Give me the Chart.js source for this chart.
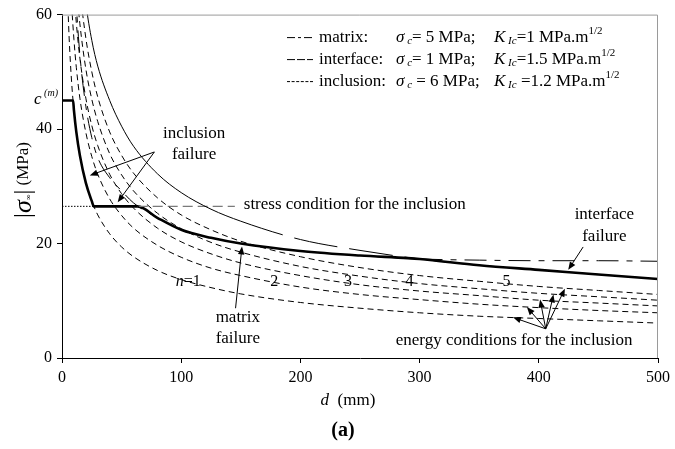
<!DOCTYPE html>
<html>
<head>
<meta charset="utf-8">
<script src="https://cdn.jsdelivr.net/npm/chart.js@4/dist/chart.umd.min.js"></script>
<style>
  html, body { margin: 0; padding: 0; background: #fff; }
  #wrap { width: 675px; height: 449px; }
</style>
</head>
<body>
<div id="wrap"><canvas id="c" width="675" height="449"></canvas></div>
<script>
// crack spacing d (mm)
const D = [4, 5, 6, 8, 10, 12, 15, 20, 25, 30, 40, 50, 60, 80, 100, 125, 150, 200, 250, 300, 350, 400, 450, 500];

// energy conditions for the inclusion, n = 1..5 (MPa)
const inclusionN1 = [68.5, 61.3, 55.9, 48.4, 43.3, 39.5, 35.4, 30.6, 27.4, 25.0, 21.7, 19.4, 17.7, 15.3, 13.7, 12.3, 11.2, 9.7, 8.7, 7.9, 7.3, 6.9, 6.5, 6.1];
const inclusionN2 = [88.0, 78.7, 71.9, 62.2, 55.7, 50.8, 45.4, 39.4, 35.2, 32.1, 27.8, 24.9, 22.7, 19.7, 17.6, 15.7, 14.4, 12.4, 11.1, 10.2, 9.4, 8.8, 8.3, 7.9];
const inclusionN3 = [101.5, 90.8, 82.9, 71.8, 64.2, 58.6, 52.4, 45.4, 40.6, 37.1, 32.1, 28.7, 26.2, 22.7, 20.3, 18.2, 16.6, 14.4, 12.8, 11.7, 10.9, 10.1, 9.6, 9.1];
const inclusionN4 = [113.0, 101.1, 92.3, 79.9, 71.5, 65.2, 58.4, 50.5, 45.2, 41.3, 35.7, 32.0, 29.2, 25.3, 22.6, 20.2, 18.5, 16.0, 14.3, 13.0, 12.1, 11.3, 10.7, 10.1];
const inclusionN5 = [125.0, 111.8, 102.1, 88.4, 79.1, 72.2, 64.5, 55.9, 50.0, 45.6, 39.5, 35.4, 32.3, 28.0, 25.0, 22.4, 20.4, 17.7, 15.8, 14.4, 13.4, 12.5, 11.8, 11.1];

// matrix: sigma_c = 5 MPa, K_Ic = 1 MPa.m^1/2
const matrixD = [8, 10, 12, 15, 20, 25, 30, 40, 50, 60, 80, 100, 125, 150, 200, 250, 300, 350, 400, 450, 500];
const matrixS = [88, 72, 62, 53, 44, 38.5, 35, 31.5, 29.2, 27.1, 24.5, 22.4, 21.0, 20.0, 18.7, 17.9, 17.3, 17.1, 17.0, 17.0, 16.9];

// interface: sigma_c = 1 MPa, K_Ic = 1.5 MPa.m^1/2
const interfaceD = [15, 20, 25, 30, 40, 50, 60, 80, 100, 125, 150, 200, 250, 300, 350, 400, 450, 500];
const interfaceS = [72, 62, 55.5, 51, 45, 40.5, 37.0, 32.2, 28.9, 26.0, 23.9, 20.7, 18.8, 17.3, 16.2, 15.4, 14.6, 13.8];

// overall failure envelope (thick line)
const failureD = [0, 9.3, 10, 12, 15, 20, 25, 26.7, 63.5, 80, 100, 125, 150, 200, 250, 290, 300, 350, 400, 450, 500];
const failureS = [45, 45, 43.3, 39.5, 35.4, 30.6, 27.4, 26.5, 26.5, 24.5, 22.4, 21.0, 20.0, 18.7, 17.9, 17.45, 17.3, 16.2, 15.4, 14.6, 13.8];

// stress condition for the inclusion
const stressDottedD = [0, 26.7];
const stressDashedD = [63.5, 145];
const stressLevel = 26.5;
const matrixStrength = 45;

const xTickValues = [0, 100, 200, 300, 400, 500];
const yTickValues = [0, 20, 40, 60];

const curveLabels = ['1', '2', '3', '4', '5'];
const curveLabelD = [106, 178, 240, 291.5, 373];
const curveLabelS = 13.3;

const SERIF = "'Liberation Serif', 'Times New Roman', serif";

function pts(xs, ys) { return xs.map((x, i) => ({ x: x, y: ys[i] })); }

function line(label, xs, ys, dash, width, color) {
  return {
    label: label,
    data: pts(xs, ys),
    borderColor: color || '#000',
    borderWidth: width,
    borderDash: dash,
    pointRadius: 0,
    fill: false,
    cubicInterpolationMode: 'monotone',
    tension: 0.4
  };
}

const inclDash = [6, 4];
const interfaceLine = line('interface', interfaceD, interfaceS, [], 1);
// the interface curve reads as a continuous stroke on its steep part, long dashes further out
interfaceLine.segment = { borderDash: c => (c.p0.parsed.x >= 150 ? [44, 12] : []) };

const datasets = [
  line('n=1', D, inclusionN1, inclDash, 1),
  line('n=2', D, inclusionN2, inclDash, 1),
  line('n=3', D, inclusionN3, inclDash, 1),
  line('n=4', D, inclusionN4, inclDash, 1),
  line('n=5', D, inclusionN5, inclDash, 1),
  line('matrix', matrixD, matrixS, [22, 8, 6, 8], 1),
  interfaceLine,
  line('stress dotted', stressDottedD, stressDottedD.map(() => stressLevel), [1.5, 1.5], 1),
  line('stress dashed', stressDashedD, stressDashedD.map(() => stressLevel), [10, 5], 1.3, '#7a7a7a'),
  line('failure', failureD, failureS, [], 2.6)
];

function setFont(ctx, p) {
  ctx.font = (p.it ? 'italic ' : '') + (p.b ? 'bold ' : '') + p.sz + 'px ' + SERIF;
}

// draws a run of text pieces (italic / bold / sub / superscript)
function rich(ctx, x, y, parts, align) {
  let total = 0;
  parts.forEach(p => { setFont(ctx, p); p.w = ctx.measureText(p.t).width; total += p.w; });
  let cx = align === 'center' ? x - total / 2 : (align === 'right' ? x - total : x);
  parts.forEach(p => {
    setFont(ctx, p);
    ctx.fillText(p.t, cx, y + (p.dy || 0));
    cx += p.w;
  });
  return cx;
}

function arrow(ctx, x1, y1, x2, y2) {
  const a = Math.atan2(y2 - y1, x2 - x1);
  const L = 8, W = 3.2;
  ctx.beginPath();
  ctx.moveTo(x1, y1);
  ctx.lineTo(x2 - Math.cos(a) * L * 0.8, y2 - Math.sin(a) * L * 0.8);
  ctx.stroke();
  ctx.beginPath();
  ctx.moveTo(x2, y2);
  ctx.lineTo(x2 - Math.cos(a) * L - Math.sin(a) * W, y2 - Math.sin(a) * L + Math.cos(a) * W);
  ctx.lineTo(x2 - Math.cos(a) * L + Math.sin(a) * W, y2 - Math.sin(a) * L - Math.cos(a) * W);
  ctx.closePath();
  ctx.fill();
}

// annotation texts and arrows, placed in data units (d, sigma)
const textNotes = [
  { t: 'inclusion', d: 110.8, s: 39.2, align: 'center' },
  { t: 'failure', d: 110.8, s: 35.5, align: 'center' },
  { t: 'stress condition for the inclusion', d: 152.5, s: 26.8, align: 'left' },
  { t: 'interface', d: 455, s: 25.0, align: 'center' },
  { t: 'failure', d: 455, s: 21.2, align: 'center' },
  { t: 'matrix', d: 147.5, s: 7.0, align: 'center' },
  { t: 'failure', d: 147.5, s: 3.4, align: 'center' },
  { t: 'energy conditions for the inclusion', d: 280, s: 3.0, align: 'left' }
];
const arrowNotes = [
  [77.5, 36.0, 23.3, 31.9],
  [77.5, 36.0, 46.7, 27.2],
  [145.6, 8.7, 151, 19.5],
  [437.2, 19.4, 424.7, 15.4],
  [405.8, 5.1, 378.3, 7.1],
  [405.8, 5.1, 390, 8.9],
  [405.8, 5.1, 401.1, 10.2],
  [405.8, 5.1, 412.3, 11.1],
  [405.8, 5.1, 421.9, 12.1]
];

// legend rows: label, sigma_c value, K_Ic value
const legendRows = [
  { name: 'matrix:', sc: '= 5 MPa;', kic: '=1 MPa.m', dash: [8, 3, 3, 3] },
  { name: 'interface:', sc: '= 1 MPa;', kic: '=1.5 MPa.m', dash: [8, 2] },
  { name: 'inclusion:', sc: ' = 6 MPa;', kic: ' =1.2 MPa.m', dash: [3, 1.6] }
];

const decor = {
  id: 'decor',
  afterDatasetsDraw(chart) {
    const ctx = chart.ctx, xs = chart.scales.x, ys = chart.scales.y, a = chart.chartArea;
    const X = v => xs.getPixelForValue(v), Y = v => ys.getPixelForValue(v);
    ctx.save();
    // frame on top and right
    ctx.strokeStyle = '#9a9a9a';
    ctx.lineWidth = 1;
    ctx.beginPath();
    ctx.moveTo(a.left, a.top + 0.5);
    ctx.lineTo(a.right - 0.5, a.top + 0.5);
    ctx.lineTo(a.right - 0.5, a.bottom);
    ctx.stroke();

    ctx.fillStyle = '#000';
    ctx.strokeStyle = '#000';
    ctx.textBaseline = 'middle';

    textNotes.forEach(n => {
      ctx.font = '17px ' + SERIF;
      ctx.textAlign = n.align;
      ctx.fillText(n.t, X(n.d), Y(n.s));
    });
    ctx.textAlign = 'left';

    ctx.lineWidth = 1;
    arrowNotes.forEach(r => arrow(ctx, X(r[0]), Y(r[1]), X(r[2]), Y(r[3])));

    // curve numbers
    curveLabels.forEach((t, i) => {
      const parts = i === 0
        ? [{ t: 'n', it: true, sz: 16 }, { t: '=1', sz: 16 }]
        : [{ t: t, sz: 16 }];
      rich(ctx, X(curveLabelD[i]), Y(curveLabelS), parts, 'center');
    });

    // c^(m) on the axis
    rich(ctx, a.left - 4, Y(matrixStrength) - 1, [
      { t: 'c', it: true, sz: 17 },
      { t: ' (m)', it: true, sz: 10, dy: -6 }
    ], 'right');

    // legend with aligned columns
    const FS = 17, SS = 11;
    const lx0 = a.right - 371, lx1 = a.right - 345, tx = a.right - 339;
    const colSigma = tx + 77, colK = tx + 175;
    legendRows.forEach((r, i) => {
      const y = a.top + 23 + i * 22;
      ctx.setLineDash(r.dash);
      ctx.beginPath();
      ctx.moveTo(lx0, y);
      ctx.lineTo(lx1, y);
      ctx.stroke();
      ctx.setLineDash([]);
      rich(ctx, tx, y, [{ t: r.name, sz: FS }], 'left');
      rich(ctx, colSigma, y, [
        { t: 'σ', it: true, sz: FS }, { t: ' c', it: true, sz: SS, dy: 4 },
        { t: r.sc, sz: FS }], 'left');
      rich(ctx, colK, y, [
        { t: 'K', it: true, sz: FS }, { t: ' Ic', it: true, sz: SS, dy: 4 },
        { t: r.kic, sz: FS }, { t: '1/2', sz: SS, dy: -6 }], 'left');
    });

    // axis titles
    rich(ctx, a.left + 286, 401, [{ t: 'd', it: true, sz: 17 }, { t: '  (mm)', sz: 17 }], 'center');
    rich(ctx, a.left + 281, 431, [{ t: '(a)', b: true, sz: 20 }], 'center');

    ctx.save();
    ctx.translate(24, 180);
    ctx.rotate(-Math.PI / 2);
    rich(ctx, 0, 0, [
      { t: '|', sz: 24 }, { t: 'σ', it: true, sz: 26 }, { t: '∞', sz: 8, dy: 5 },
      { t: '|', sz: 24 }, { t: ' (MPa)', sz: 17 }
    ], 'center');
    ctx.restore();

    ctx.restore();
  }
};

Chart.defaults.font.family = SERIF;
Chart.defaults.color = '#000';

new Chart(document.getElementById('c'), {
  type: 'line',
  data: { datasets: datasets },
  options: {
    responsive: false,
    animation: false,
    events: [],
    layout: { padding: { top: 13, right: 13, left: 0, bottom: 0 } },
    plugins: { legend: { display: false }, tooltip: { enabled: false } },
    scales: {
      x: {
        type: 'linear', min: 0, max: 500,
        afterBuildTicks: s => { s.ticks = xTickValues.map(v => ({ value: v })); },
        afterFit: s => { s.height = 91; },
        ticks: { font: { size: 16, family: SERIF }, color: '#000', padding: 5, maxRotation: 0 },
        grid: { drawOnChartArea: false, drawTicks: true, tickLength: 5, color: '#000' },
        border: { color: '#000', width: 1 }
      },
      y: {
        min: 0, max: 60,
        afterBuildTicks: s => { s.ticks = yTickValues.map(v => ({ value: v })); },
        afterFit: s => { s.width = 62; },
        ticks: { font: { size: 16, family: SERIF }, color: '#000', padding: 5 },
        grid: { drawOnChartArea: false, drawTicks: true, tickLength: 5, color: '#000' },
        border: { color: '#000', width: 1 }
      }
    }
  },
  plugins: [decor]
});
</script>
</body>
</html>
